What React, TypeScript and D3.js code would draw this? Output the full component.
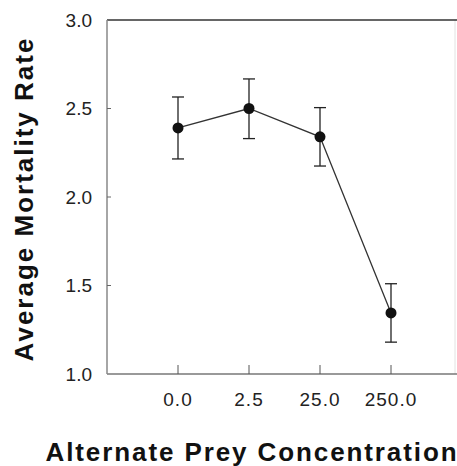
import React, { useEffect, useRef } from "react";
import * as d3 from "d3";

const categories = ["0.0", "2.5", "25.0", "250.0"];
const means = [2.39, 2.5, 2.34, 1.345];
const upper = [2.565, 2.667, 2.505, 1.51];
const lower = [2.215, 2.33, 2.175, 1.18];
const yTicks = [1.0, 1.5, 2.0, 2.5, 3.0];

const W = 457;
const H = 466;
const FONT = "'Liberation Sans', Arial, Helvetica, sans-serif";

const App = () => {
  const ref = useRef<SVGSVGElement | null>(null);

  useEffect(() => {
    const svg = d3.select(ref.current);
    svg.selectAll("*").remove();

    const left = 107;
    const top = 20;
    const bottom = 374;
    const right = 455;

    const x = d3.scalePoint<string>().domain(categories).range([left, 462]).padding(1);
    const y = d3.scaleLinear().domain([1, 3]).range([bottom, top]);

    const rows = categories.map((c, i) => ({ c, m: means[i], hi: upper[i], lo: lower[i] }));

    // frame
    svg.append("line").attr("x1", right).attr("x2", right).attr("y1", top).attr("y2", bottom)
      .attr("stroke", "#e2e2e2").attr("stroke-width", 1);
    svg.append("line").attr("x1", left).attr("x2", W).attr("y1", top).attr("y2", top)
      .attr("stroke", "#333").attr("stroke-width", 1.5);
    svg.append("line").attr("x1", left).attr("x2", W).attr("y1", bottom).attr("y2", bottom)
      .attr("stroke", "#777").attr("stroke-width", 1.5);
    svg.append("line").attr("x1", left).attr("x2", left).attr("y1", top).attr("y2", bottom)
      .attr("stroke", "#888").attr("stroke-width", 1.5);

    // y ticks + labels
    svg.selectAll(".yt").data(yTicks.slice(1, -1)).join("line")
      .attr("x1", left).attr("x2", left + 4)
      .attr("y1", (d) => y(d)).attr("y2", (d) => y(d))
      .attr("stroke", "#666").attr("stroke-width", 1);
    svg.selectAll(".yl").data(yTicks).join("text")
      .attr("x", 92).attr("y", (d) => y(d))
      .attr("dy", "0.36em")
      .attr("text-anchor", "end")
      .attr("font-family", FONT).attr("font-size", 19).attr("fill", "#222")
      .text((d) => d.toFixed(1));

    // x ticks + labels
    svg.selectAll(".xt").data(categories).join("line")
      .attr("x1", (d) => x(d)!).attr("x2", (d) => x(d)!)
      .attr("y1", bottom).attr("y2", bottom - 9)
      .attr("stroke", "#555").attr("stroke-width", 1);
    svg.selectAll(".xl").data(categories).join("text")
      .attr("x", (d) => x(d)!).attr("y", 406)
      .attr("text-anchor", "middle")
      .attr("font-family", FONT).attr("font-size", 19).attr("letter-spacing", 1).attr("fill", "#222")
      .text((d) => d);

    // connecting line
    const line = d3.line<{ c: string; m: number }>().x((d) => x(d.c)!).y((d) => y(d.m));
    svg.append("path").datum(rows).attr("d", line)
      .attr("fill", "none").attr("stroke", "#333").attr("stroke-width", 1.3);

    // error bars
    const eb = svg.selectAll(".eb").data(rows).join("g");
    eb.append("line")
      .attr("x1", (d) => x(d.c)!).attr("x2", (d) => x(d.c)!)
      .attr("y1", (d) => y(d.hi)).attr("y2", (d) => y(d.lo))
      .attr("stroke", "#222").attr("stroke-width", 1.3);
    eb.append("line")
      .attr("x1", (d) => x(d.c)! - 6).attr("x2", (d) => x(d.c)! + 6)
      .attr("y1", (d) => y(d.hi)).attr("y2", (d) => y(d.hi))
      .attr("stroke", "#222").attr("stroke-width", 1.3);
    eb.append("line")
      .attr("x1", (d) => x(d.c)! - 6).attr("x2", (d) => x(d.c)! + 6)
      .attr("y1", (d) => y(d.lo)).attr("y2", (d) => y(d.lo))
      .attr("stroke", "#222").attr("stroke-width", 1.3);

    // markers
    svg.selectAll(".pt").data(rows).join("circle")
      .attr("cx", (d) => x(d.c)!).attr("cy", (d) => y(d.m))
      .attr("r", 5.5).attr("fill", "#111");

    // axis titles
    svg.append("text")
      .attr("x", 252).attr("y", 461)
      .attr("text-anchor", "middle")
      .attr("font-family", FONT).attr("font-size", 26).attr("font-weight", "bold")
      .attr("letter-spacing", 1.9).attr("fill", "#111")
      .text("Alternate Prey Concentration");
    svg.append("text")
      .attr("transform", "translate(33,199) rotate(-90)")
      .attr("text-anchor", "middle")
      .attr("font-family", FONT).attr("font-size", 26).attr("font-weight", "bold")
      .attr("letter-spacing", 2).attr("fill", "#111")
      .text("Average Mortality Rate");
  }, []);

  return (
    <svg
      ref={ref}
      width={W}
      height={H}
      style={{ position: "absolute", left: 0, top: 0, background: "#fff" }}
    />
  );
};

export default App;
